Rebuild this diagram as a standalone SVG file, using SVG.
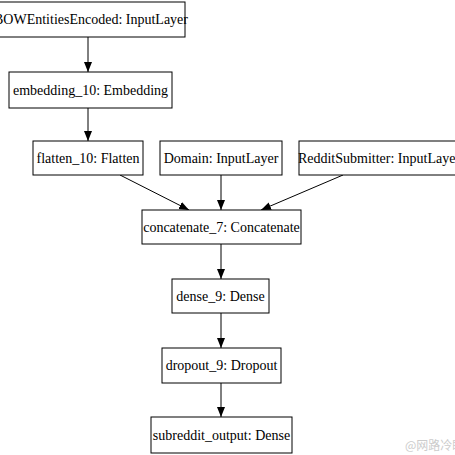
<svg xmlns="http://www.w3.org/2000/svg" width="455" height="455" viewBox="0 0 455 455">
<style>
.b{fill:#fff;stroke:#000;stroke-width:1}
.t{font-family:"Liberation Serif","Times New Roman",serif;font-size:14px;fill:#000;text-anchor:middle}
.e{stroke:#000;stroke-width:1;fill:none;marker-end:url(#a)}
</style>
<defs>
<marker id="a" markerWidth="10" markerHeight="10" refX="10" refY="5" orient="auto" markerUnits="userSpaceOnUse">
<path d="M0,1 L10,5 L0,9 Z" fill="#000"/>
</marker>
</defs>
<rect width="455" height="455" fill="#fff"/>
<g id="edges">
<line class="e" x1="88" y1="37" x2="88" y2="72"/>
<line class="e" x1="88" y1="108" x2="88" y2="141"/>
<line class="e" x1="120" y1="175" x2="189" y2="210"/>
<line class="e" x1="221" y1="175" x2="221" y2="210"/>
<line class="e" x1="343" y1="175" x2="261" y2="210"/>
<line class="e" x1="221" y1="244" x2="221" y2="279"/>
<line class="e" x1="221" y1="313" x2="221" y2="348"/>
<line class="e" x1="221" y1="383" x2="221" y2="417"/>
</g>
<g id="bow"><rect class="b" x="-3" y="2" width="188" height="35"/><text class="t" x="91" y="24">BOWEntitiesEncoded: InputLayer</text></g>
<g id="embedding"><rect class="b" x="9" y="72" width="163" height="36"/><text class="t" x="90.5" y="95">embedding_10: Embedding</text></g>
<g id="flatten"><rect class="b" x="33" y="141" width="110" height="34"/><text class="t" x="88" y="163">flatten_10: Flatten</text></g>
<g id="domain"><rect class="b" x="160" y="141" width="122" height="34"/><text class="t" x="221" y="163">Domain: InputLayer</text></g>
<g id="reddit"><rect class="b" x="299" y="141" width="160" height="34"/><text class="t" x="379" y="163">RedditSubmitter: InputLayer</text></g>
<g id="concat"><rect class="b" x="142" y="210" width="159" height="34"/><text class="t" x="221.5" y="232">concatenate_7: Concatenate</text></g>
<g id="dense"><rect class="b" x="172" y="279" width="97" height="34"/><text class="t" x="220.5" y="301">dense_9: Dense</text></g>
<g id="dropout"><rect class="b" x="162" y="348" width="119" height="35"/><text class="t" x="221.5" y="370">dropout_9: Dropout</text></g>
<g id="output"><rect class="b" x="151" y="417" width="141" height="36"/><text class="t" x="221.5" y="440">subreddit_output: Dense</text></g>
<text x="405" y="450" style="font-family:'Noto Sans CJK SC',sans-serif;font-size:12px;fill:#ccc;text-anchor:start">@网路冷眼</text>
</svg>
